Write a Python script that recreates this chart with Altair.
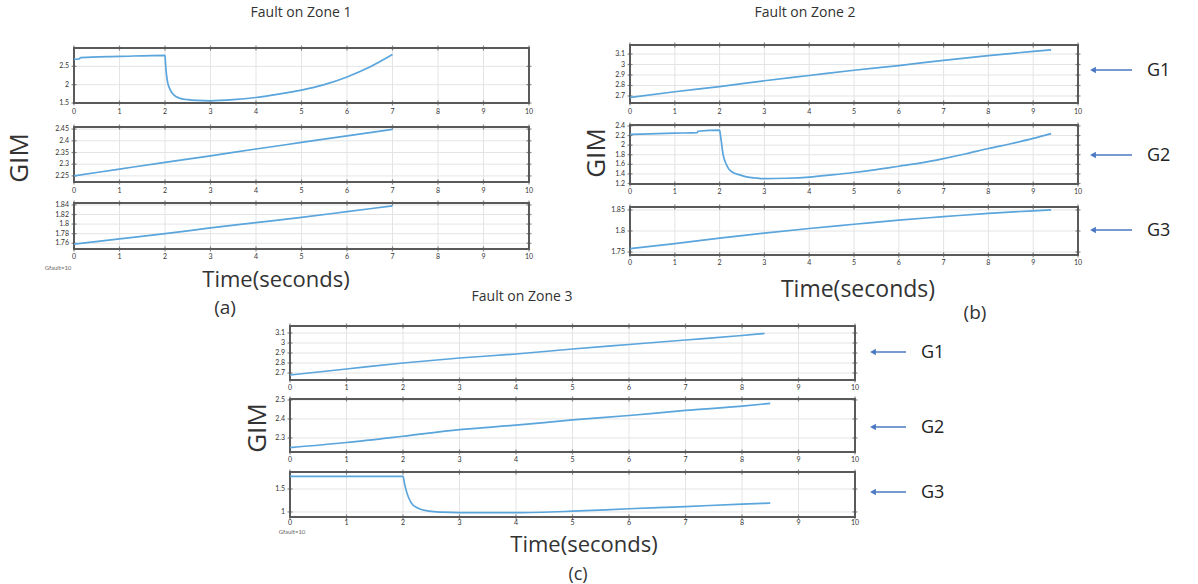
import altair as alt
import pandas as pd

# ---------------- data ----------------
x_ticks = list(range(11))

# Fault on Zone 1 (a)
z1_g1_t = [0, 0.1, 0.15, 1.0, 2.0, 2.01, 2.03, 2.06, 2.1, 2.17, 2.25, 2.35, 2.5, 2.7, 3.0, 3.5, 4.0, 4.5, 5.0, 5.5, 6.0, 6.5, 7.0]
z1_g1_v = [2.69, 2.70, 2.74, 2.77, 2.80, 2.60, 2.30, 2.05, 1.90, 1.75, 1.67, 1.62, 1.59, 1.57, 1.56, 1.59, 1.65, 1.74, 1.85, 2.00, 2.21, 2.48, 2.82]
z1_g2_t = [0, 1, 2, 3, 4, 5, 6, 7]
z1_g2_v = [2.250, 2.279, 2.308, 2.336, 2.365, 2.393, 2.421, 2.449]
z1_g3_t = [0, 1, 2, 3, 4, 5, 6, 7]
z1_g3_v = [1.758, 1.769, 1.780, 1.792, 1.803, 1.814, 1.826, 1.838]

# Fault on Zone 2 (b)
z2_g1_t = [0, 1, 2, 3, 4, 5, 6, 7, 8, 9, 9.4]
z2_g1_v = [2.685, 2.74, 2.79, 2.845, 2.895, 2.945, 2.99, 3.04, 3.085, 3.125, 3.14]
z2_g2_t = [0, 1.0, 1.5, 1.52, 2.0, 2.02, 2.04, 2.07, 2.1, 2.15, 2.2, 2.3, 2.45, 2.6, 2.8, 3.0, 3.5, 4.0, 4.5, 5.0, 5.5, 6.0, 6.5, 7.0, 7.5, 8.0, 8.5, 9.0, 9.4]
z2_g2_v = [2.225, 2.25, 2.26, 2.29, 2.315, 2.20, 2.07, 1.85, 1.72, 1.60, 1.51, 1.43, 1.38, 1.34, 1.315, 1.30, 1.31, 1.335, 1.38, 1.43, 1.49, 1.56, 1.63, 1.72, 1.82, 1.93, 2.03, 2.14, 2.24]
z2_g3_t = [0, 1, 2, 3, 4, 5, 6, 7, 8, 9, 9.4]
z2_g3_v = [1.758, 1.770, 1.783, 1.795, 1.806, 1.816, 1.826, 1.834, 1.842, 1.848, 1.850]

# Fault on Zone 3 (c)
z3_g1_t = [0, 1, 2, 3, 4, 5, 6, 7, 8, 8.4]
z3_g1_v = [2.68, 2.74, 2.80, 2.85, 2.89, 2.94, 2.985, 3.03, 3.075, 3.095]
z3_g2_t = [0, 1, 2, 3, 4, 5, 6, 7, 8, 8.5]
z3_g2_v = [2.249, 2.276, 2.309, 2.344, 2.367, 2.395, 2.418, 2.445, 2.467, 2.482]
z3_g3_t = [0, 1.0, 2.0, 2.03, 2.07, 2.14, 2.25, 2.46, 2.7, 3.0, 4.0, 5.0, 6.0, 7.0, 8.0, 8.5]
z3_g3_v = [1.775, 1.775, 1.775, 1.60, 1.41, 1.21, 1.09, 1.016, 0.995, 0.985, 0.985, 1.016, 1.07, 1.117, 1.17, 1.19]

# y tick labels per subplot
yt_a1 = [1.5, 2.0, 2.5];                 yl_a1 = ["1.5", "2", "2.5"]
yt_a2 = [2.25, 2.3, 2.35, 2.4, 2.45];    yl_a2 = ["2.25", "2.3", "2.35", "2.4", "2.45"]
yt_a3 = [1.76, 1.78, 1.8, 1.82, 1.84];   yl_a3 = ["1.76", "1.78", "1.8", "1.82", "1.84"]
yt_b1 = [2.7, 2.8, 2.9, 3.0, 3.1];       yl_b1 = ["2.7", "2.8", "2.9", "3", "3.1"]
yt_b2 = [1.2, 1.4, 1.6, 1.8, 2.0, 2.2, 2.4]; yl_b2 = ["1.2", "1.4", "1.6", "1.8", "2", "2.2", "2.4"]
yt_b3 = [1.75, 1.8, 1.85];               yl_b3 = ["1.75", "1.8", "1.85"]
yt_c1 = [2.7, 2.8, 2.9, 3.0, 3.1];       yl_c1 = ["2.7", "2.8", "2.9", "3", "3.1"]
yt_c2 = [2.3, 2.4, 2.5];                 yl_c2 = ["2.3", "2.4", "2.5"]
yt_c3 = [1.0, 1.5];                      yl_c3 = ["1", "1.5"]

# ---------------- layout / style ----------------
FONT = "Lato"
BIG = "Open Sans"
LINE = "#5aa5dc"
GRID = "#e4e4e4"
FRAME = "#5a5a5a"
TXT = "#333333"
ARROW = "#4a78c2"


def subplot(t, v, yt, yl, ydom, xr, yr, lab_y):
    lo, hi = ydom
    xs = alt.Scale(domain=[0, 10], range=list(xr), nice=False, zero=False)
    ys = alt.Scale(domain=[lo, hi], range=[yr[1], yr[0]], nice=False, zero=False)
    xdf = pd.DataFrame({"tick": x_ticks, "lab": [str(i) for i in x_ticks]})
    ydf = pd.DataFrame({"val": yt, "lab": yl})
    ldf = pd.DataFrame({"t": t, "v": v})
    one = pd.DataFrame({"k": [0]})

    X = lambda f: alt.X(f, scale=xs, axis=None)
    Y = lambda f: alt.Y(f, scale=ys, axis=None)

    xgrid = alt.Chart(xdf).mark_rule(color=GRID, strokeWidth=1).encode(
        x=X("tick:Q"), y=alt.Y(datum=lo, scale=ys, axis=None), y2=alt.Y2(datum=hi))
    ygrid = alt.Chart(ydf).mark_rule(color=GRID, strokeWidth=1).encode(
        y=Y("val:Q"), x=alt.X(datum=0, scale=xs, axis=None), x2=alt.X2(datum=10))
    line = alt.Chart(ldf).mark_line(color=LINE, strokeWidth=1.7, interpolate="monotone").encode(
        x=X("t:Q"), y=Y("v:Q"))
    frame = alt.Chart(one).mark_rect(fillOpacity=0, stroke=FRAME, strokeWidth=2).encode(
        x=alt.X(datum=0, scale=xs, axis=None), x2=alt.X2(datum=10),
        y=alt.Y(datum=lo, scale=ys, axis=None), y2=alt.Y2(datum=hi))
    xt_top = alt.Chart(xdf).mark_tick(orient="vertical", size=5, thickness=1.2, color=FRAME).encode(
        x=X("tick:Q"), y=alt.Y(datum=hi, scale=ys, axis=None))
    xt_bot = alt.Chart(xdf).mark_tick(orient="vertical", size=5, thickness=1.2, color=FRAME).encode(
        x=X("tick:Q"), y=alt.Y(datum=lo, scale=ys, axis=None))
    yt_l = alt.Chart(ydf).mark_tick(orient="horizontal", size=5, thickness=1.2, color=FRAME).encode(
        y=Y("val:Q"), x=alt.X(datum=0, scale=xs, axis=None))
    yt_r = alt.Chart(ydf).mark_tick(orient="horizontal", size=5, thickness=1.2, color=FRAME).encode(
        y=Y("val:Q"), x=alt.X(datum=10, scale=xs, axis=None))
    xlab = alt.Chart(xdf).mark_text(fontSize=7, font=FONT, color=TXT, baseline="middle",
                                    dy=lab_y - yr[1]).encode(
        x=X("tick:Q"), y=alt.Y(datum=lo, scale=ys, axis=None), text="lab:N")
    ylab = alt.Chart(ydf).mark_text(fontSize=7, font=FONT, color=TXT, align="right",
                                    baseline="middle", dx=-5).encode(
        y=Y("val:Q"), x=alt.X(datum=0, scale=xs, axis=None), text="lab:N")
    return alt.layer(xgrid, ygrid, frame, xt_top, xt_bot, yt_l, yt_r, line, xlab, ylab)


def label(text, x, y, size, angle=0, color=TXT, align="center", font=BIG):
    return alt.Chart(pd.DataFrame({"s": [text]})).mark_text(
        fontSize=size, font=font, angle=angle, color=color, align=align,
        baseline="middle").encode(x=alt.value(x), y=alt.value(y), text="s:N")


def arrow(x_head, x_tail, y, name, name_x):
    df = pd.DataFrame({"s": [name]})
    shaft = alt.Chart(df).mark_rule(color=ARROW, strokeWidth=1.5).encode(
        x=alt.value(x_head + 4), x2=alt.value(x_tail), y=alt.value(y))
    head = alt.Chart(df).mark_point(shape="triangle-left", filled=True, size=45,
                                    color=ARROW, opacity=1).encode(
        x=alt.value(x_head + 3), y=alt.value(y))
    txt = alt.Chart(df).mark_text(fontSize=18, font=BIG, color="#222", align="left",
                                  baseline="middle").encode(
        x=alt.value(name_x), y=alt.value(y + 1), text="s:N")
    return alt.layer(shaft, head, txt)


AX = (74, 529)
BX = (630, 1078)
CX = (290, 855)

panels = [
    subplot(z1_g1_t, z1_g1_v, yt_a1, yl_a1, (1.5, 3.0), AX, (48, 103), 112),
    subplot(z1_g2_t, z1_g2_v, yt_a2, yl_a2, (2.224, 2.459), AX, (127, 182), 191),
    subplot(z1_g3_t, z1_g3_v, yt_a3, yl_a3, (1.748, 1.844), AX, (203, 249), 257),
    subplot(z2_g1_t, z2_g1_v, yt_b1, yl_b1, (2.633, 3.186), BX, (45, 103), 112),
    subplot(z2_g2_t, z2_g2_v, yt_b2, yl_b2, (1.19, 2.42), BX, (125, 184), 192),
    subplot(z2_g3_t, z2_g3_v, yt_b3, yl_b3, (1.743, 1.857), BX, (207, 255), 263),
    subplot(z3_g1_t, z3_g1_v, yt_c1, yl_c1, (2.63, 3.17), CX, (326, 380), 388),
    subplot(z3_g2_t, z3_g2_v, yt_c2, yl_c2, (2.226, 2.505), CX, (399, 452), 460),
    subplot(z3_g3_t, z3_g3_v, yt_c3, yl_c3, (0.89, 1.87), CX, (472, 517), 523),
]

notes = [
    label("Fault on Zone 1", 301, 13, 14),
    label("Fault on Zone 2", 805, 13, 14),
    label("Fault on Zone 3", 522, 297, 14),
    label("GIM", 20, 158, 26, angle=270),
    label("GIM", 597, 153, 26, angle=270),
    label("GIM", 258, 428, 26, angle=270),
    label("Time(seconds)", 276, 280, 22),
    label("Time(seconds)", 858, 290, 23),
    label("Time(seconds)", 584, 545, 22),
    label("(a)", 225, 308, 19),
    label("(b)", 975, 313, 19),
    label("(c)", 578, 575, 18),
    label("Gfault=10", 58, 268, 6, color="#666", font=FONT),
    label("Gfault=10", 292, 532, 6, color="#666", font=FONT),
    arrow(1090, 1132, 70, "G1", 1147),
    arrow(1090, 1132, 155, "G2", 1147),
    arrow(1090, 1132, 230, "G3", 1147),
    arrow(870, 906, 352, "G1", 921),
    arrow(870, 906, 427, "G2", 921),
    arrow(870, 906, 492, "G3", 921),
]

chart = alt.layer(*panels, *notes).resolve_scale(
    x="independent", y="independent"
).properties(
    width=1198, height=584, autosize=alt.AutoSizeParams(type="none"), padding=0,
    background="white"
).configure_view(strokeWidth=0)

chart.save("out.html", embed_options={"renderer": "svg", "actions": False})
